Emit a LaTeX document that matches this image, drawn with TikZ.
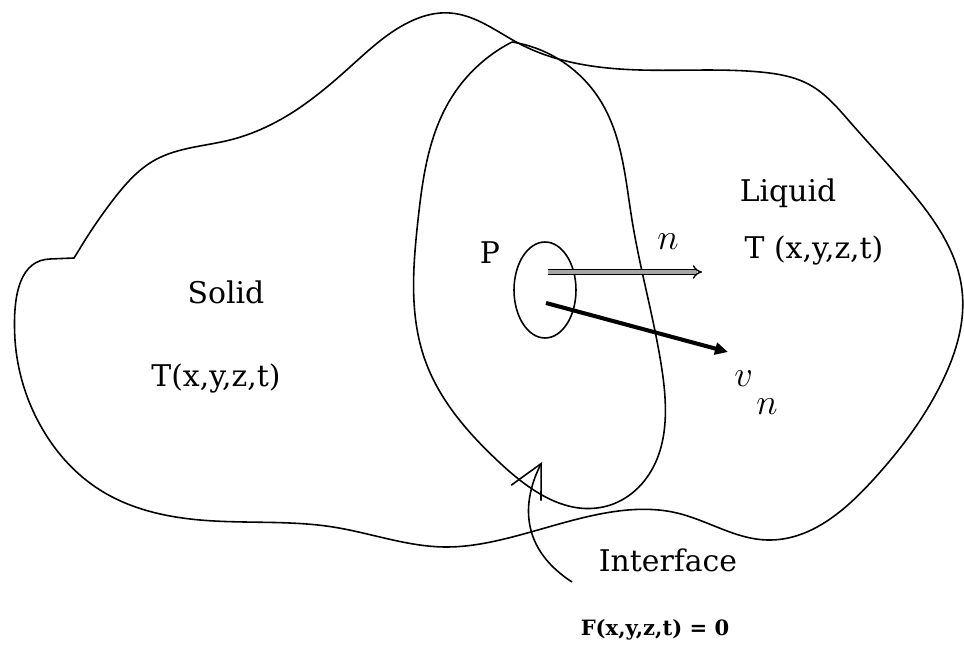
\documentclass[tikz,border=0pt]{standalone}
\usepackage{fontspec}
\setmainfont{DejaVu Serif}
\usetikzlibrary{shapes.geometric,arrows.meta,hobby}

\begin{document}
\begin{tikzpicture}[
  x=0.02cm, y=-0.02cm,
  region/.style={line width=0.9pt, line join=round},
  label text/.style={font=\fontsize{17}{20}\selectfont, inner sep=0pt},
  math text/.style={font=\fontsize{20}{24}\selectfont, inner sep=0pt},
  normal arrow/.style={double=black!35, double distance=1.8pt, line width=0.8pt, -{Implies}},
  velocity arrow/.style={line width=2.3pt, -{Triangle[length=2.6mm, width=2.4mm]}},
  pointer/.style={line width=0.9pt, -{Straight Barb[length=6.6mm, width=6.7mm]}}
]
\useasboundingbox (0,0) rectangle (964,651);

% Outer body
\draw[region, use Hobby shortcut] (79,250) .. (113,200) .. (155,160) .. (230,140) .. (290,114)
  .. (350,67) .. (400,27) .. (450,13) .. (520,44) .. (640,70) .. (760,72)
  .. (810,85) .. (850,122) .. (910,190) .. (962,290) .. (943,380)
  .. (873,480) .. (767,540) .. (677,513) .. (600,514) .. (500,540)
  .. (445,547) .. (333,527) .. (200,520) .. (100,490) .. (43,430)
  .. (15,340);
\draw[region] (15,340) .. controls (12,290) and (22,260) .. (50,259)
  -- (74,258) -- (79,250);

% Interface loop
\draw[region, use Hobby shortcut] (512,42) .. (600,100) .. (632,220) .. (662,370) .. (645,480)
  .. (603,507) .. (500,463) .. (425,360) .. (418,220) .. (450,100) .. (512,42);

% Nodes
\node[ellipse, draw, region, minimum width=1.24cm, minimum height=1.92cm, inner sep=0pt] (spot) at (545,290) {};
\node[label text] (P) at (490,253) {P};
\node[label text] (solid) at (226,292) {Solid};
\node[label text] (Tsolid) at (216,378) {T(x,y,z,t)};
\node[label text] (liquid) at (788,193) {Liquid};
\node[label text] (Tliquid) at (814,250) {T~(x,y,z,t)};
\node[math text, anchor=base] (nlab) at (668,250) {$n$};
\node[math text, anchor=base west] (vlab) at (734,387) {$v\hspace{2pt}\raisebox{-0.56cm}{$n$}$};
\node[label text] (iface) at (668,560) {Interface};
\node[font=\fontsize{12}{14}\selectfont\bfseries, inner sep=0pt] (Feq) at (655,630) {F(x,y,z,t) = 0};

% Arrows
\coordinate (nbase) at (548,272);
\coordinate (ntip) at (702,272);
\coordinate (vbase) at (546,303);
\coordinate (vtip) at (728,352);
\coordinate (ptail) at (572,582);
\coordinate (phead) at (542,462);

\draw[normal arrow] (nbase) -- (ntip);
\draw[velocity arrow] (vbase) -- (vtip);
\draw[pointer] (ptail) .. controls (515,545) and (525,495) .. (phead);
\end{tikzpicture}
\end{document}
